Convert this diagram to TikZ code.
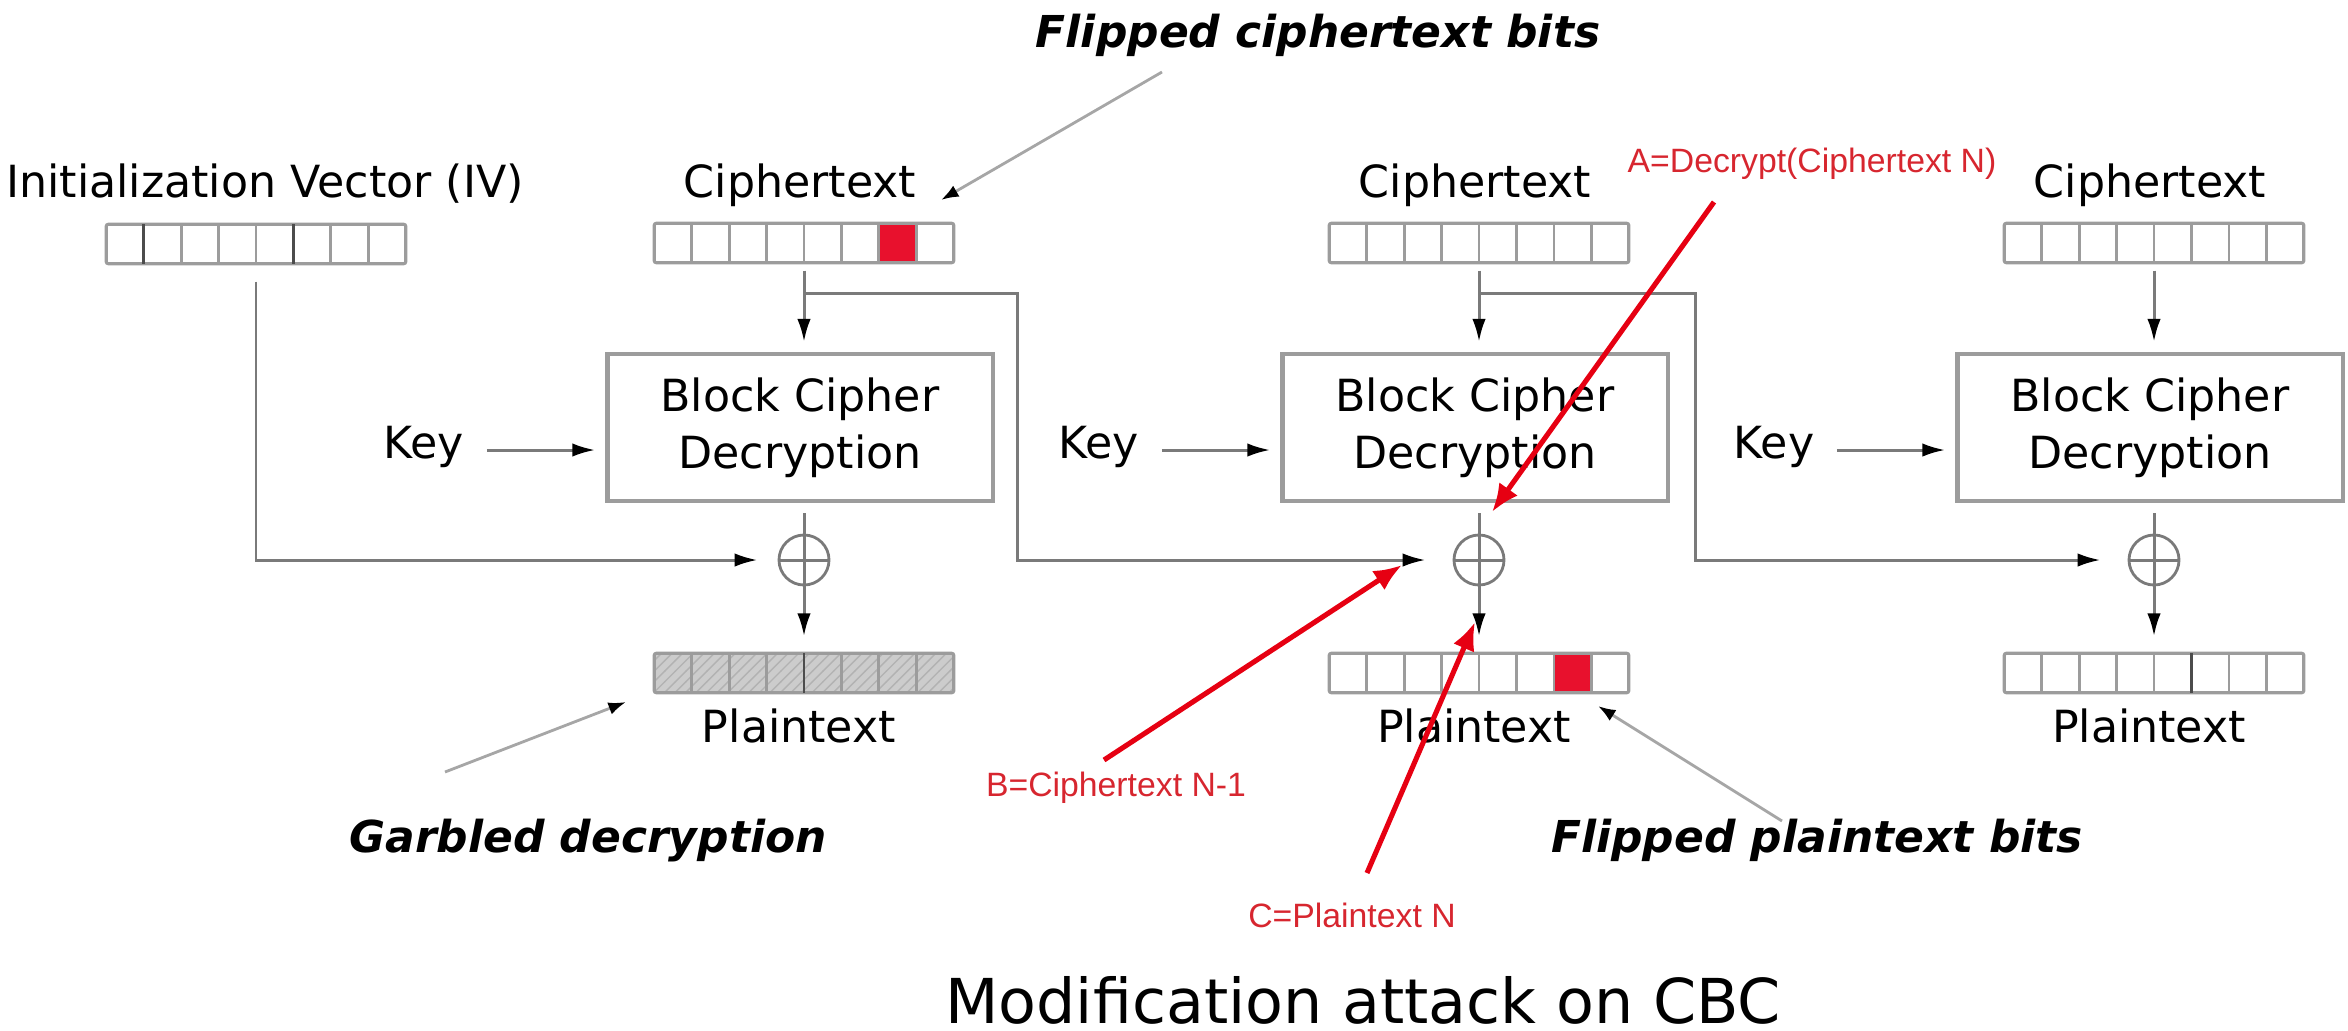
\documentclass[tikz,border=0pt]{standalone}
\usepackage{fontspec}
\setmainfont{DejaVu Sans}
\newfontfamily\notefont{Liberation Sans}
\usetikzlibrary{arrows.meta,calc,patterns}

\definecolor{wire}{HTML}{7A7A7A}
\definecolor{frame}{HTML}{9C9C9C}
\definecolor{flipred}{HTML}{E8112D}
\definecolor{notered}{HTML}{D7262F}
\definecolor{markred}{HTML}{E60012}

\tikzset{
  lbl/.style={font=\fontsize{12.6}{15}\selectfont, inner sep=0, anchor=base},
  cipherbox/.style={draw=frame, line width=1.2pt, minimum width=3.85cm, minimum height=1.47cm,
    align=center, font=\fontsize{12.6}{16.2}\selectfont, inner sep=0},
  reg/.style={minimum width=2.98cm, minimum height=0.38cm, inner sep=0},
  regframe/.style={draw=frame, line width=0.9pt, rounded corners=0.6pt},
  cellline/.style={draw=frame, line width=0.8pt},
  darkline/.style={draw=black!70, line width=0.8pt},
  xor/.style={circle, draw=wire, line width=0.8pt, minimum size=0.5cm, inner sep=0},
  wireline/.style={draw=wire, line width=0.85pt},
  flow/.style={wireline, -{Latex[length=6.5pt,width=3.8pt,black]}},
  callout/.style={draw=gray!70, line width=0.8pt, -{Latex[length=5pt,width=3.6pt,black]}},
  redarrow/.style={draw=markred, line width=1.45pt, -{Latex[length=8pt,width=6.5pt]}},
  note/.style={text=notered, font=\notefont\fontsize{9.6}{11}\selectfont, inner sep=0, anchor=base},
  remark/.style={font=\bfseries\itshape\fontsize{12.5}{15}\selectfont, inner sep=0, anchor=base},
}

% 8-cell register: dividers and frame drawn over the node area
\newcommand\regcells[1]{%
  \foreach \k in {1,...,7}
    \draw[cellline] ($(#1.north west)!\k/8!(#1.north east)$) -- ($(#1.south west)!\k/8!(#1.south east)$);
  \draw[regframe] (#1.north west) rectangle (#1.south east);}
\newcommand\darkdiv[2]{%
  \draw[darkline] ($(#1.north west)!#2/8!(#1.north east)$) -- ($(#1.south west)!#2/8!(#1.south east)$);}
\newcommand\flipcell[2]{%
  \fill[flipred, draw=flipred!70!black, line width=0.6pt]
    ($(#1.north west)!#2/8!(#1.north east)$) rectangle ($(#1.south west)!#2/8+1/8!(#1.south east)$);}

\begin{document}
\begin{tikzpicture}[x=0.01cm, y=-0.01cm]
\useasboundingbox (0,0) rectangle (2348,1030);

% ---- registers ----
\node[reg] (iv)  at (256,244) {};
\node[reg] (ct1) at (804,243) {};
\node[reg] (ct2) at (1479,243) {};
\node[reg] (ct3) at (2154,243) {};
\node[reg] (pt1) at (804,673) {};
\node[reg] (pt2) at (1479,673) {};
\node[reg] (pt3) at (2154,673) {};

\fill[black!20] (pt1.north west) rectangle (pt1.south east);
\fill[pattern=north east lines, pattern color=black!30] (pt1.north west) rectangle (pt1.south east);
\flipcell{ct1}{6}
\flipcell{pt2}{6}
\regcells{iv}\regcells{ct1}\regcells{ct2}\regcells{ct3}
\regcells{pt1}\regcells{pt2}\regcells{pt3}
\darkdiv{iv}{1}\darkdiv{iv}{5}\darkdiv{pt1}{4}\darkdiv{pt3}{5}

% ---- register labels ----
\node[lbl] (ivl) at (265,197) {Initialization Vector (IV)};
\node[lbl] (ctl1) at (800,197) {Ciphertext};
\node[lbl] (ctl2) at (1475,197) {Ciphertext};
\node[lbl] (ctl3) at (2150,197) {Ciphertext};
\node[lbl] (ptl1) at (799,742) {Plaintext};
\node[lbl] (ptl2) at (1474,742) {Plaintext};
\node[lbl] (ptl3) at (2149,742) {Plaintext};

% ---- decryption blocks ----
\node[cipherbox] (box1) at (800,427.5) {Block Cipher\\Decryption};
\node[cipherbox] (box2) at (1475,427.5) {Block Cipher\\Decryption};
\node[cipherbox] (box3) at (2150,427.5) {Block Cipher\\Decryption};

\node[lbl] (key1) at (424,458) {Key};
\node[lbl] (key2) at (1099,458) {Key};
\node[lbl] (key3) at (1774,458) {Key};

% ---- xor nodes ----
\node[xor] (x1) at (804,560) {};
\node[xor] (x2) at (1479,560) {};
\node[xor] (x3) at (2154,560) {};
\foreach \n in {x1,x2,x3}
  \draw[wireline] (\n.north) -- (\n.south) (\n.west) -- (\n.east);

% ---- data flow ----
\foreach \i in {1,2,3}{
  \draw[flow, shorten <=0.08cm, shorten >=0.1cm] (ct\i.south) -- (ct\i.south |- box\i.north);
  \draw[wireline, shorten <=0.1cm] (box\i.south -| x\i) -- (x\i.north);
  \draw[flow, shorten >=0.17cm] (x\i.south) -- (pt\i.north);
  \draw[flow, shorten >=0.1cm] ($(key\i.base east)+(22,-8)$) -- ($(box\i.west |- key\i.base)+(0,-8)$);
}

\coordinate (t1) at (1017,293);
\coordinate (t2) at (1695,293);
\draw[flow, shorten <=0.18cm, shorten >=0.2cm] (iv.south) |- (x1.west);
\draw[flow, shorten >=0.27cm] (ct1.south |- t1) -- (t1) |- (x2.west);
\draw[flow, shorten >=0.27cm] (ct2.south |- t2) -- (t2) |- (x3.west);

% ---- grey remarks ----
\node[remark] (fcb) at (1318,47) {Flipped ciphertext bits};
\node[remark] (gd) at (588,852) {Garbled decryption};
\node[remark] (fpb) at (1817,852) {Flipped plaintext bits};
\coordinate (fcb0) at (1162,72);
\coordinate (fcb1) at (941,200);
\coordinate (gd0) at (445,772);
\coordinate (gd1) at (626,702);
\coordinate (fpb0) at (1782,821);
\coordinate (fpb1) at (1598,706);
\draw[callout] (fcb0) -- (fcb1);
\draw[callout] (gd0) -- (gd1);
\draw[callout] (fpb0) -- (fpb1);

% ---- red notes ----
\node[note] (na) at (1812,172) {A=Decrypt(Ciphertext N)};
\node[note] (nb) at (1116,796) {B=Ciphertext N-1};
\node[note] (nc) at (1352,927) {C=Plaintext N};
\coordinate (a0) at (1714,202);
\coordinate (a1) at (1492,512);
\coordinate (b0) at (1104,760);
\coordinate (b1) at (1402,565);
\coordinate (c0) at (1367,873);
\coordinate (c1) at (1475,622);
\draw[redarrow] (a0) -- (a1);
\draw[redarrow] (b0) -- (b1);
\draw[redarrow] (c0) -- (c1);

% ---- caption ----
\node[inner sep=0, anchor=base, font=\fontsize{17.6}{21}\selectfont] (title) at (1363,1023) {Modification attack on CBC};
\end{tikzpicture}
\end{document}
